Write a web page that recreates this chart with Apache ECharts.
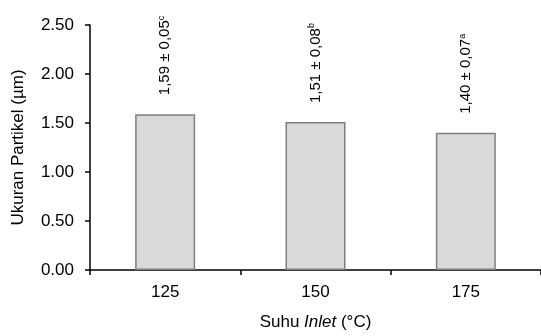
<!DOCTYPE html>
<html><head><meta charset="utf-8">
<script src="https://cdn.jsdelivr.net/npm/echarts@6/dist/echarts.min.js"></script>
<style>html,body{margin:0;padding:0;background:#fff}#c{width:541px;height:336px}</style>
</head><body><div id="c"></div>
<script>
const categories = ['125', '150', '175'];
const values = [1.59, 1.51, 1.40];
const sdText = ['0,05', '0,08', '0,07'];
const letters = ['c', 'b', 'a'];
const yTicks = [0, 0.5, 1.0, 1.5, 2.0, 2.5];

const chart = echarts.init(document.getElementById('c'));
const FONT = '"Liberation Sans", Arial, sans-serif';
chart.setOption({
  animation: false,
  grid: {left: 90, right: 0, top: 25, bottom: 62},
  xAxis: {
    type: 'category', data: categories,
    axisLine: {lineStyle: {color: '#000', width: 1.5}},
    axisTick: {show: true, length: 5, alignWithLabel: false, lineStyle: {color: '#000', width: 1.5}},
    axisLabel: {color: '#000', fontSize: 17, fontFamily: FONT, margin: 14},
    name: '{n|Suhu }{i|Inlet}{n| (°C)}',
    nameLocation: 'middle', nameGap: 44,
    nameTextStyle: {rich: {
      n: {fontSize: 17, fontFamily: FONT, color: '#000'},
      i: {fontSize: 17, fontFamily: FONT, color: '#000', fontStyle: 'italic'}
    }}
  },
  yAxis: {
    type: 'value', min: yTicks[0], max: yTicks[yTicks.length - 1], interval: 0.5,
    splitLine: {show: false},
    axisLine: {show: true, lineStyle: {color: '#000', width: 1.5}},
    axisTick: {show: true, length: 5, lineStyle: {color: '#000', width: 1.5}},
    axisLabel: {color: '#000', fontSize: 17, fontFamily: FONT, margin: 16,
      formatter: v => v.toFixed(2)},
    name: 'Ukuran Partikel (µm)', nameLocation: 'middle', nameGap: 63,
    nameTextStyle: {color: '#000', fontSize: 17, fontFamily: FONT}
  },
  series: [{
    type: 'bar', barWidth: 60,
    data: values,
    itemStyle: {color: '#d9d9d9', borderColor: '#808080', borderWidth: 1.5},
    label: {
      show: true, position: 'top', distance: 19, rotate: 90,
      align: 'left', verticalAlign: 'middle',
      formatter: p => '{v|' + values[p.dataIndex].toFixed(2).replace('.', ',') + ' ± ' + sdText[p.dataIndex] + '}{s|' + letters[p.dataIndex] + '}',
      rich: {
        v: {fontSize: 15, fontFamily: FONT, color: '#000'},
        s: {fontSize: 9, fontFamily: FONT, color: '#000', verticalAlign: 'top', padding: [0, 0, 7, 0]}
      }
    }
  }]
});
</script></body></html>
